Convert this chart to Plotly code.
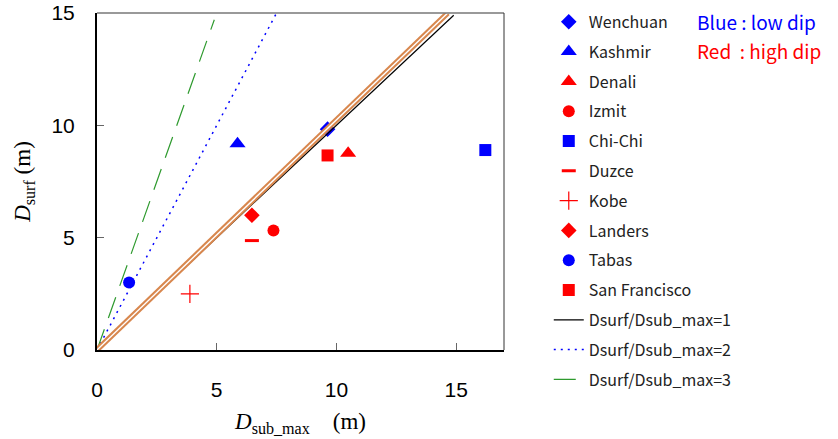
import plotly.graph_objects as go

# Earthquake surface vs. maximum subsurface slip (m)
quakes = ["Wenchuan", "Kashmir", "Denali", "Izmit", "Chi-Chi",
          "Duzce", "Kobe", "Landers", "Tabas", "San Francisco"]
d_sub_max = [9.63, 5.87, 10.49, 7.37, 16.22, 6.47, 3.88, 6.47, 1.34, 9.63]
d_surf = [9.83, 9.18, 8.76, 5.32, 8.90, 4.87, 2.50, 6.00, 3.00, 8.66]
colors = ["#0000ff", "#0000ff", "#ff0000", "#ff0000", "#0000ff",
          "#ff0000", "#ff0000", "#ff0000", "#0000ff", "#ff0000"]
symbols = ["diamond", "triangle-up", "triangle-up", "circle", "square",
           "line-ew", "cross-thin", "diamond", "circle", "square"]
sizes = [12, 14, 14, 12, 12, 10, 13, 12, 12, 12]

# Reference ratio lines Dsurf / Dsub_max
ratios = [1, 2, 3]
ratio_names = ["Dsurf/Dsub_max=1", "Dsurf/Dsub_max=2", "Dsurf/Dsub_max=3"]
ratio_xmax = [14.9, 7.5, 4.9]

fig = go.Figure()

for name, x, y, c, s, sz in zip(quakes, d_sub_max, d_surf, colors, symbols, sizes):
    lw = 3 if s == "line-ew" else (1.2 if s == "cross-thin" else 0)
    fig.add_trace(go.Scatter(
        x=[x], y=[y], mode="markers", name=name, legendgroup=name,
        marker=dict(symbol=s, size=sz, color=c,
                    line=dict(color=c, width=lw)),
    ))

line_styles = [
    dict(color="#000000", width=1.2, dash="solid"),
    dict(color="#0000ff", width=1.5, dash="2px,5px"),
    dict(color="#2e9a2e", width=1.2, dash="22px,12px"),
]
for r, nm, xm, st in zip(ratios, ratio_names, ratio_xmax, line_styles):
    fig.add_trace(go.Scatter(
        x=[0, xm], y=[0, r * xm], mode="lines", name=nm, legendgroup=nm,
        line=st,
    ))

# highlighted 1:1 band drawn as a double orange stroke
fig.add_trace(go.Scatter(x=[-0.2, 14.65], y=[-0.2, 15.0], mode="lines",
                         line=dict(color="#d8874e", width=5.5),
                         showlegend=False, hoverinfo="skip"))
fig.add_trace(go.Scatter(x=[-0.2, 14.65], y=[-0.2, 15.0], mode="lines",
                         line=dict(color="#ffffff", width=1.4),
                         showlegend=False, hoverinfo="skip"))

fig.update_layout(
    width=838, height=439,
    margin=dict(l=97, r=334, t=13, b=89, autoexpand=False),
    plot_bgcolor="white", paper_bgcolor="white",
    font=dict(family="Liberation Sans, Arial", color="black"),
    legend=dict(
        x=1.11, xanchor="left", y=1.024, yanchor="top",
        font=dict(family="Noto Sans CJK JP", size=16, color="#222"),
        tracegroupgap=6, bgcolor="rgba(0,0,0,0)", maxheight=1.0,
    ),
    xaxis=dict(
        range=[0, 17], tickvals=[0, 5, 10, 15], ticks="inside", ticklen=7,
        tickcolor="#666", showgrid=False, zeroline=False,
        showline=True, linecolor="black", linewidth=2,
        tickfont=dict(size=21), ticklabelstandoff=20,
        title=dict(text="<i>D</i><sub>sub_max</sub>    (m)",
                   font=dict(family="Liberation Serif", size=23), standoff=13),
    ),
    yaxis=dict(
        range=[0, 15], tickvals=[0, 5, 10, 15], ticks="inside", ticklen=7,
        tickcolor="#666", showgrid=False, zeroline=False,
        showline=True, linecolor="black", linewidth=2,
        tickfont=dict(size=21), ticklabelstandoff=16,
        title=dict(text="<i>D</i><sub>surf</sub> (m)",
                   font=dict(family="Liberation Serif", size=23), standoff=14),
    ),
    shapes=[
        dict(type="line", xref="paper", yref="paper", x0=0, x1=1, y0=1, y1=1,
             line=dict(color="#777", width=1.5)),
        dict(type="line", xref="paper", yref="paper", x0=1, x1=1, y0=0, y1=1,
             line=dict(color="#333", width=1)),
    ],
    annotations=[
        dict(text="Blue : low dip", xref="paper", yref="paper", x=1.47, y=0.975,
             xanchor="left", yanchor="middle", showarrow=False,
             font=dict(family="Noto Sans CJK JP", size=19, color="#0000ff")),
        dict(text="Red  : high dip", xref="paper", yref="paper", x=1.47, y=0.89,
             xanchor="left", yanchor="middle", showarrow=False,
             font=dict(family="Noto Sans CJK JP", size=19, color="#ff0000")),
    ],
)

fig.write_html("out.html")
